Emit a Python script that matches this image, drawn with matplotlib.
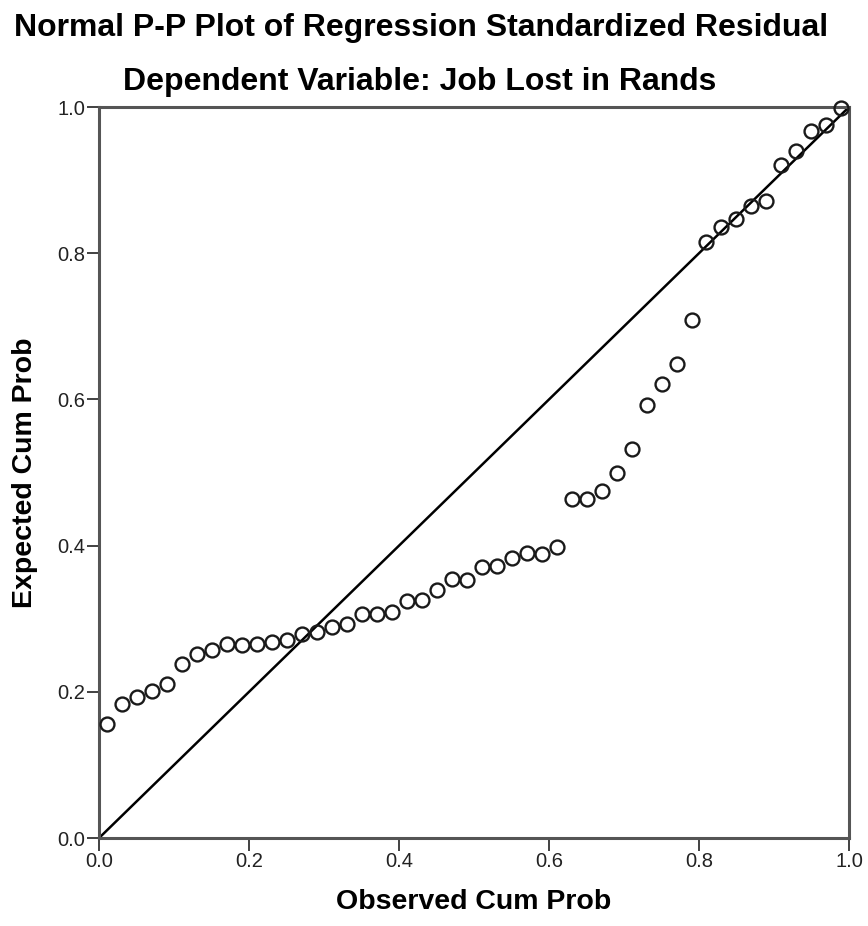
import matplotlib
matplotlib.use("Agg")
import matplotlib.pyplot as plt

# ================= DATA =================
observed_cum_prob = [
    0.01, 0.03, 0.05, 0.07, 0.09, 0.11, 0.13, 0.15, 0.17, 0.19,
    0.21, 0.23, 0.25, 0.27, 0.29, 0.31, 0.33, 0.35, 0.37, 0.39,
    0.41, 0.43, 0.45, 0.47, 0.49, 0.51, 0.53, 0.55, 0.57, 0.59,
    0.61, 0.63, 0.65, 0.67, 0.69, 0.71, 0.73, 0.75, 0.77, 0.79,
    0.81, 0.83, 0.85, 0.87, 0.89, 0.91, 0.93, 0.95, 0.97, 0.99,
]
expected_cum_prob = [
    0.156, 0.183, 0.193, 0.201, 0.211, 0.238, 0.252, 0.257, 0.265, 0.264,
    0.265, 0.268, 0.271, 0.279, 0.282, 0.289, 0.293, 0.306, 0.306, 0.309,
    0.324, 0.326, 0.339, 0.354, 0.353, 0.371, 0.372, 0.383, 0.390, 0.389,
    0.398, 0.464, 0.464, 0.475, 0.499, 0.532, 0.592, 0.621, 0.648, 0.709,
    0.815, 0.836, 0.847, 0.865, 0.871, 0.921, 0.940, 0.967, 0.975, 0.999,
]
ticks = [0.0, 0.2, 0.4, 0.6, 0.8, 1.0]
tick_labels = ["0.0", "0.2", "0.4", "0.6", "0.8", "1.0"]

plt.rcParams['font.family'] = ['Liberation Sans', 'DejaVu Sans']

fig = plt.figure(figsize=(8.68, 9.26), dpi=100)
ax = fig.add_axes([0.1141, 0.0950, 0.864, 0.7894])

# reference diagonal
ax.plot([0, 1], [0, 1], color='black', linewidth=1.8, zorder=2)
ax.plot(observed_cum_prob, expected_cum_prob, linestyle='none', marker='o',
        markersize=10, markerfacecolor='none', markeredgecolor='#1a1a1a',
        markeredgewidth=1.7, zorder=3, clip_on=False)

ax.set_xlim(0, 1)
ax.set_ylim(0, 1)
ax.set_xticks(ticks)
ax.set_xticklabels(tick_labels)
ax.set_yticks(ticks)
ax.set_yticklabels(tick_labels)
ax.tick_params(direction='out', length=9, width=1.3, color='#333333',
               labelsize=14.5, labelcolor='#222222', pad=1)
for s in ax.spines.values():
    s.set_color('#555555')
    s.set_linewidth(2.2)

ax.set_xlabel("Observed Cum Prob", fontsize=20.5, fontweight='bold', labelpad=13)
ax.set_ylabel("Expected Cum Prob", fontsize=20.5, fontweight='bold', labelpad=14)

fig.text(0.485, 0.970, "Normal P-P Plot of Regression Standardized Residual",
         ha='center', va='center', fontsize=23, fontweight='bold')
fig.text(0.484, 0.911, "Dependent Variable: Job Lost in Rands",
         ha='center', va='center', fontsize=23, fontweight='bold')

fig.savefig("out.png", dpi=100)
